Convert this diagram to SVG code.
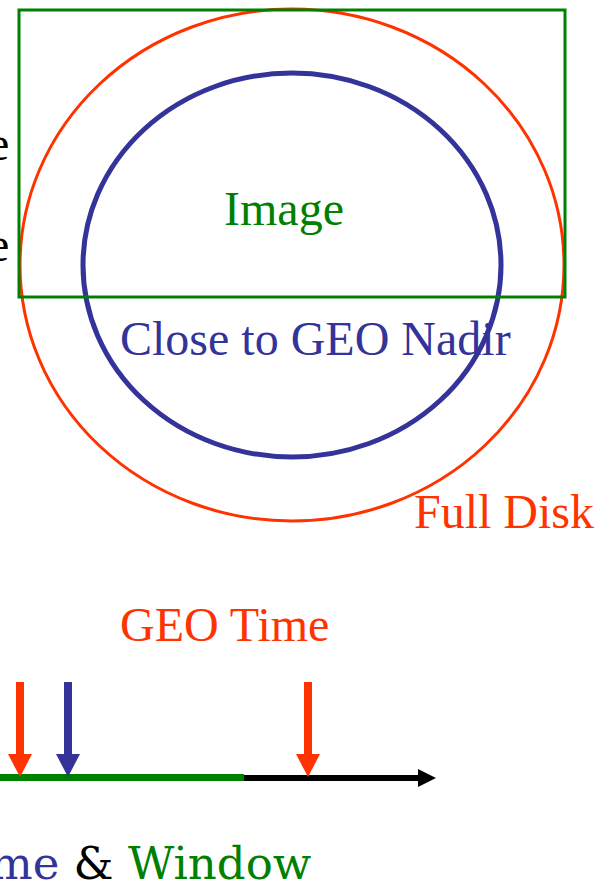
<svg xmlns="http://www.w3.org/2000/svg" width="596" height="886" viewBox="0 0 596 886">
<style>
text{font-family:"Liberation Serif","Times New Roman",serif;font-size:48px}
.cap{font-family:"DejaVu Serif",Georgia,serif;font-size:45px}
.red{fill:#FF3300}.blue{fill:#333399}.green{fill:#008000}.black{fill:#000}
</style>
<rect width="596" height="886" fill="#fff"/>
<g id="clipped-left">
<text x="-12" y="160" class="black">e</text>
<text x="-12" y="261" class="black">e</text>
</g>
<g id="full-disk">
<ellipse cx="292" cy="265" rx="272" ry="256" fill="none" stroke="#FF3300" stroke-width="3"/>
<text x="414" y="528" class="red">Full Disk</text>
</g>
<g id="nadir">
<ellipse cx="292" cy="265" rx="209" ry="192" fill="none" stroke="#333399" stroke-width="5"/>
<text x="120" y="355" class="blue">Close to GEO Nadir</text>
</g>
<g id="image">
<rect x="19" y="10" width="546" height="287" fill="none" stroke="#008000" stroke-width="3"/>
<text x="284" y="225" text-anchor="middle" class="green">Image</text>
</g>
<g id="geo-time">
<text x="120" y="641" class="red">GEO Time</text>
</g>
<g id="connectors">
<line x1="244" y1="778" x2="422" y2="778" stroke="#000" stroke-width="6"/>
<path d="M418,769L436,778L418,787z" fill="#000"/>
<line x1="0" y1="777.5" x2="244" y2="777.5" stroke="#008000" stroke-width="7"/>
<line x1="20" y1="682" x2="20" y2="756" stroke="#FF3300" stroke-width="8"/>
<path d="M8,754L32,754L20,777z" fill="#FF3300"/>
<line x1="68" y1="682" x2="68" y2="756" stroke="#333399" stroke-width="8"/>
<path d="M56,754L80,754L68,777z" fill="#333399"/>
<line x1="308" y1="682" x2="308" y2="756" stroke="#FF3300" stroke-width="8"/>
<path d="M296,754L320,754L308,777z" fill="#FF3300"/>
</g>
<g id="caption">
<text x="-10" y="879" class="cap"><tspan class="blue">me</tspan><tspan class="black"> &amp; </tspan><tspan class="green">Window</tspan></text>
</g>
</svg>
